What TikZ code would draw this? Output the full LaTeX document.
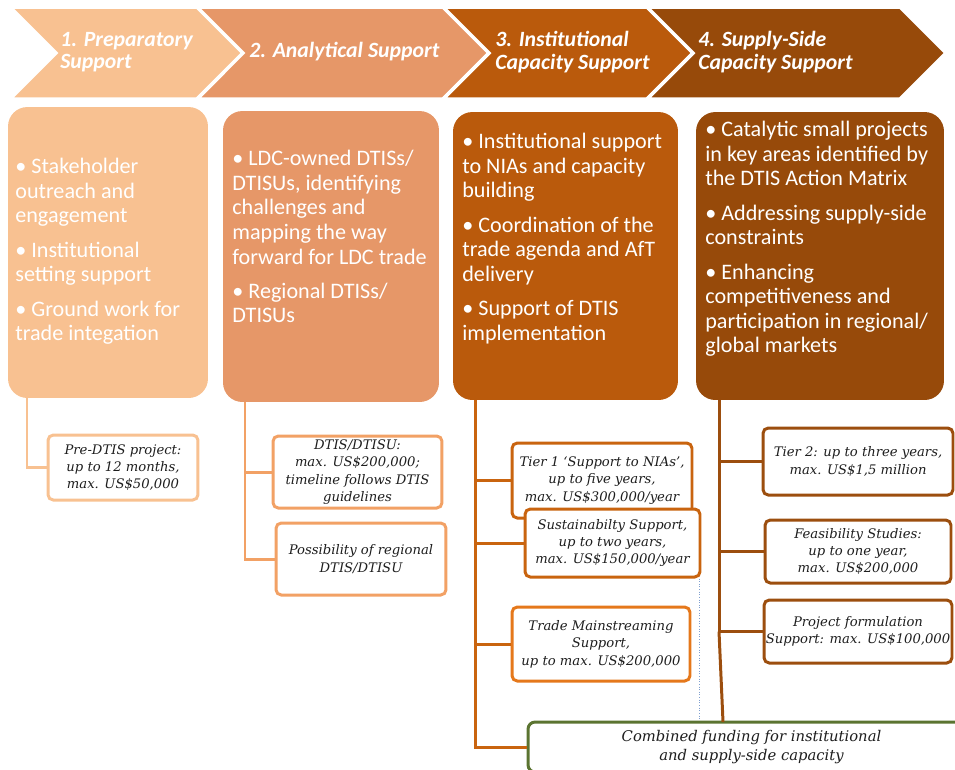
\documentclass[tikz,border=0pt]{standalone}
\usepackage{fontspec}
\setmainfont{Carlito}
\newfontfamily\boxfont{DejaVu Serif}
\usepackage{xcolor}
\usepackage{tikz}
\usetikzlibrary{positioning}

\definecolor{prep}{HTML}{F8C191}
\definecolor{anal}{HTML}{E69768}
\definecolor{inst}{HTML}{BA5A0C}
\definecolor{supp}{HTML}{974A0A}
\definecolor{analline}{HTML}{F2A165}
\definecolor{instline}{HTML}{C9640F}
\definecolor{tradeline}{HTML}{E5781B}
\definecolor{suppline}{HTML}{9C4E0E}
\definecolor{combline}{HTML}{5B7431}
\definecolor{boxink}{HTML}{1E1E1E}
\definecolor{dotline}{HTML}{7F9FCF}

\tikzset{
  bigbox/.style={rounded corners=11pt, inner sep=0pt},
  bigtext/.style={anchor=north west, inner sep=0pt, align=left, text=white,
    font=\fontsize{12.6}{14}\selectfont},
  chevtext/.style={anchor=west, inner sep=0pt, align=left, text=white,
    font=\bfseries\itshape\fontsize{12.4}{12.8}\selectfont},
  fundbox/.style={draw, fill=white, rounded corners=3pt, line width=1.7pt,
    inner sep=0pt, align=center, text=boxink,
    font=\boxfont\itshape\fontsize{7.5}{9.9}\selectfont},
  link/.style={line width=1.7pt},
}

\begin{document}
\begin{tikzpicture}[x=0.02cm, y=-0.02cm]
    \useasboundingbox (0,0) rectangle (955,769);
    \clip (0,0) rectangle (955,769);
    % the four stages
    \filldraw[fill=prep, draw=white, line width=2pt] (10,7) -- (197,7) -- (243,53) -- (197,99) -- (10,99) -- (56,53) -- cycle;
    \filldraw[fill=anal, draw=white, line width=2pt] (197,7) -- (443,7) -- (489,53) -- (443,99) -- (197,99) -- (243,53) -- cycle;
    \filldraw[fill=inst, draw=white, line width=2pt] (443,7) -- (647,7) -- (693,53) -- (647,99) -- (443,99) -- (489,53) -- cycle;
    \filldraw[fill=supp, draw=white, line width=2pt] (647,7) -- (900,7) -- (946,53) -- (900,99) -- (647,99) -- (693,53) -- cycle;
    \node[chevtext] (h1) at (60,52) {1. Preparatory\\Support};
    \node[chevtext] (h2) at (249,52) {2. Analytical Support};
    \node[chevtext] (h3) at (495,52) {3. Institutional\\Capacity Support};
    \node[chevtext] (h4) at (698,52) {4. Supply-Side\\Capacity Support};

    % main boxes
    \node[bigbox, fill=prep, minimum width=4cm, minimum height=5.82cm] (b1) at (108,252.5) {};
    \node[bigbox, fill=anal, minimum width=4.32cm, minimum height=5.82cm] (b2) at (331,256.5) {};
    \node[bigbox, fill=inst, minimum width=4.5cm, minimum height=5.76cm] (b3) at (565.5,256) {};
    \node[bigbox, fill=supp, minimum width=4.96cm, minimum height=5.76cm] (b4) at (820,256) {};
    \node[bigtext] (b1t) at (15,158) {\textbullet\ Stakeholder\\outreach and\\engagement\\[5.5pt]\textbullet\ Institutional\\setting support\\[5.5pt]\textbullet\ Ground work for\\trade integation};
    \node[bigtext] (b2t) at (232,150) {\textbullet\ LDC-owned DTISs/\\DTISUs, identifying\\challenges and\\mapping the way\\forward for LDC trade\\[5.5pt]\textbullet\ Regional DTISs/\\DTISUs};
    \node[bigtext] (b3t) at (462,133) {\textbullet\ Institutional support\\to NIAs and capacity\\building\\[5.5pt]\textbullet\ Coordination of the\\trade agenda and AfT\\delivery\\[5.5pt]\textbullet\ Support of DTIS\\implementation};
    \node[bigtext] (b4t) at (705,121) {\textbullet\ Catalytic small projects\\in key areas identified by\\the DTIS Action Matrix\\[5.5pt]\textbullet\ Addressing supply-side\\constraints\\[5.5pt]\textbullet\ Enhancing\\competitiveness and\\participation in regional/\\global markets};

    % funding boxes
    \node[fundbox, draw=prep, minimum width=3cm, minimum height=1.3cm] (pre) at (123,467.5) {Pre-DTIS project:\\up to 12 months,\\max. US\$50,000};
    \node[fundbox, draw=analline, minimum width=3.38cm, minimum height=1.44cm] (dtis) at (357.5,472) {DTIS/DTISU:\\max. US\$200,000;\\timeline follows DTIS\\guidelines};
    \node[fundbox, draw=analline, minimum width=3.4cm, minimum height=1.44cm] (poss) at (361,559) {Possibility of regional\\DTIS/DTISU};
    \node[fundbox, draw=instline, minimum width=3.6cm, minimum height=1.5cm] (tier1) at (602,480.5) {Tier 1 ‘Support to NIAs’,\\up to five years,\\max. US\$300,000/year};
    \node[fundbox, draw=instline, minimum width=3.5cm, minimum height=1.36cm] (sus) at (612.5,543) {Sustainabilty Support,\\up to two years,\\max. US\$150,000/year};
    \node[fundbox, draw=tradeline, minimum width=3.56cm, minimum height=1.48cm] (trade) at (601,644) {Trade Mainstreaming\\Support,\\up to max. US\$200,000};
    \node[fundbox, draw=suppline, minimum width=3.8cm, minimum height=1.34cm] (tier2) at (858,461.5) {Tier 2: up to three years,\\max. US\$1,5 million};
    \node[fundbox, draw=suppline, minimum width=3.72cm, minimum height=1.26cm] (feas) at (858,551.5) {Feasibility Studies:\\up to one year,\\max. US\$200,000};
    \node[fundbox, draw=suppline, minimum width=3.76cm, minimum height=1.26cm] (proj) at (858,631.5) {Project formulation\\Support: max. US\$100,000};
    \node[fundbox, draw=combline, rounded corners=4pt, minimum width=8.94cm, minimum height=1cm,
      font=\boxfont\itshape\fontsize{8.4}{11}\selectfont] (comb) at (751.5,747) {Combined funding for institutional\\and supply-side capacity};

    % connectors
    \coordinate (t1) at (27,398);
    \coordinate (t2) at (245,402);
    \coordinate (t3) at (475,400);
    \coordinate (t4) at (719,400);
    \coordinate (c4) at (723,722);
    \draw[link, prep] (t1) |- (pre.west);
    \draw[link, analline] (t2) |- (poss.west);
    \draw[link, analline] (t2 |- dtis.west) -- (dtis.west);
    \draw[link, instline] (t3) |- (comb.west);
    \draw[link, instline] (t3 |- tier1.west) -- (tier1.west);
    \draw[link, instline] (t3 |- sus.west) -- (sus.west);
    \draw[link, instline] (t3 |- trade.west) -- (trade.west);
    \draw[link, suppline] (t4) |- (proj.west);
    \draw[link, suppline] (t4 |- tier2.west) -- (tier2.west);
    \draw[link, suppline] (t4 |- feas.west) -- (feas.west);
    \draw[link, suppline] (t4 |- proj.west) -- (c4);
    \draw[densely dotted, dotline, line width=0.5pt] ([xshift=-1pt]sus.south east) -- ([xshift=-1pt]sus.south east |- comb.north);
\end{tikzpicture}
\end{document}
